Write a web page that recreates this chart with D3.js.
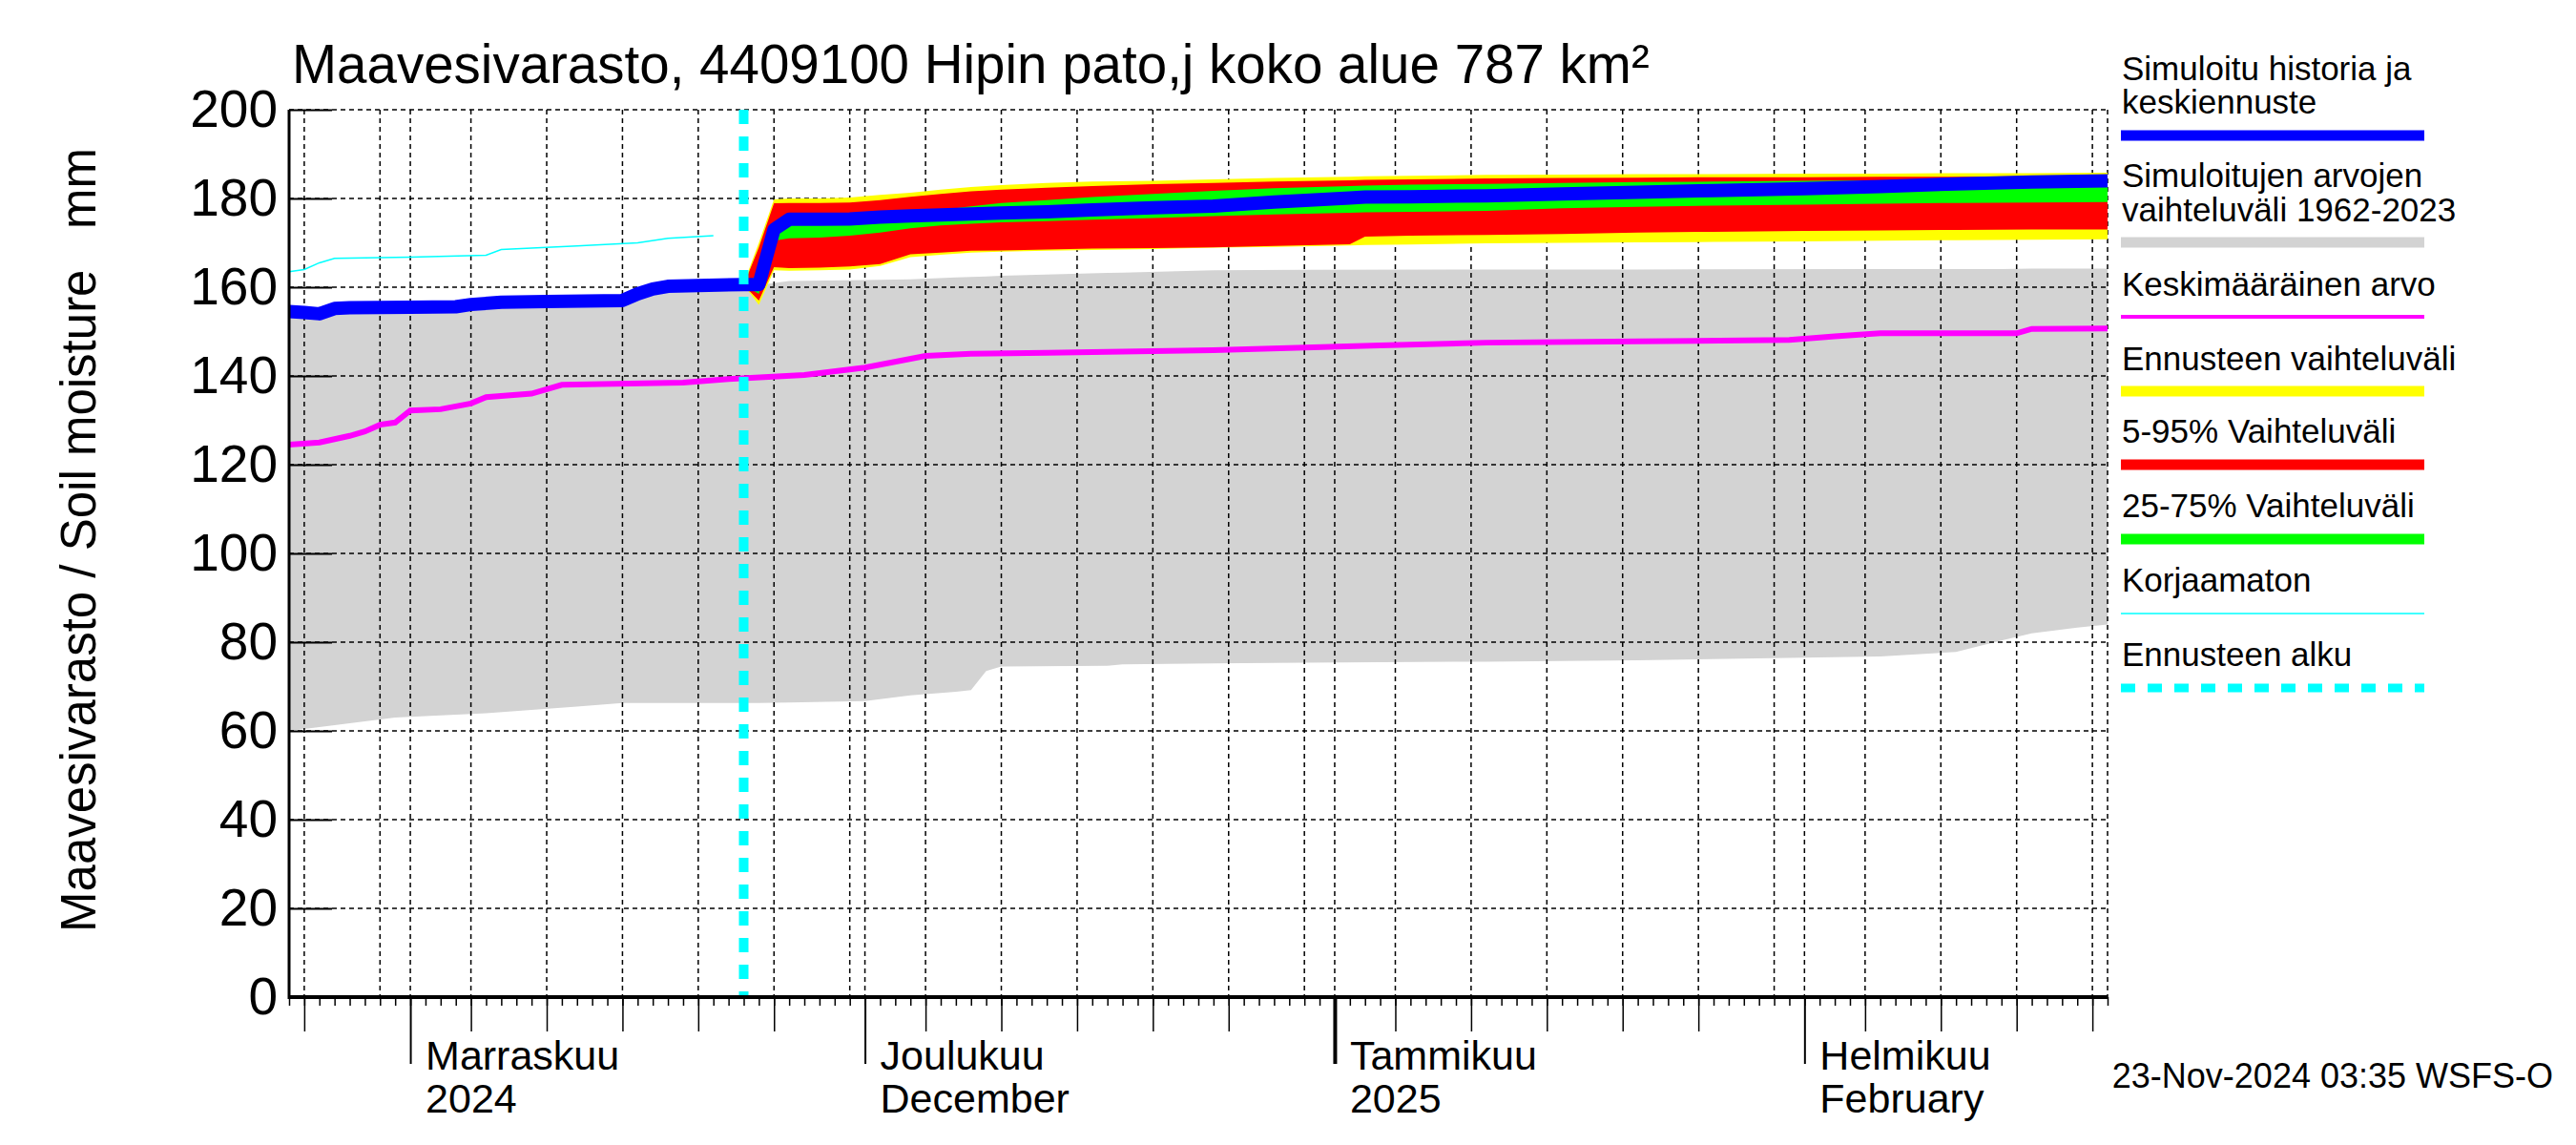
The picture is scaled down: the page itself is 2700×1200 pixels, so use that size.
<!DOCTYPE html>
<html>
<head>
<meta charset="utf-8">
<script src="https://cdn.jsdelivr.net/npm/d3@7"></script>
<style>
  html, body { margin: 0; padding: 0; background: #ffffff; }
  svg { display: block; font-family: "Liberation Sans", Arial, Helvetica, sans-serif; }
</style>
</head>
<body>
<svg id="chart" width="2700" height="1200"></svg>
<script>
// ---------------- DATA ----------------
const titleText = "Maavesivarasto, 4409100 Hipin pato,j koko alue 787 km²";
const yAxisTitle = "Maavesivarasto / Soil moisture   mm";
const stampText = "23-Nov-2024 03:35 WSFS-O";
const yTicks = [0, 20, 40, 60, 80, 100, 120, 140, 160, 180, 200];
const monthLabels = [
  ["2024-11-01", "Marraskuu", "2024"],
  ["2024-12-01", "Joulukuu", "December"],
  ["2025-01-01", "Tammikuu", "2025"],
  ["2025-02-01", "Helmikuu", "February"]
];
const domainStart = "2024-10-24";
const domainEnd = "2025-02-21";
const forecastStart = "2024-11-23";

// historical range 1962-2023 (grey band)
const grayDates = ["2024-10-24","2024-10-27","2024-10-31","2024-11-06","2024-11-12","2024-11-15","2024-11-17","2024-11-22","2024-11-23","2024-11-24","2024-11-26","2024-12-01","2024-12-04","2024-12-07","2024-12-08","2024-12-09","2024-12-10","2024-12-17","2024-12-18","2024-12-24","2024-12-30","2025-01-11","2025-01-21","2025-02-06","2025-02-11","2025-02-14","2025-02-16","2025-02-19","2025-02-21"];
const grayHi = [153.5,154.5,154.8,155.3,156,156.5,158.5,159.8,160,160.5,161.4,161.6,161.8,162.2,162.3,162.4,162.6,163.2,163.3,163.8,163.9,164,164,164.1,164.1,164.1,164.2,164.2,164.2];
const grayLo = [60,61.3,63,64,65.5,66.3,66.3,66.3,66.3,66.3,66.4,66.7,68,68.8,69.2,73.5,74.5,74.7,75,75.2,75.4,75.6,75.9,76.8,77.8,80.4,82,83.3,84];

// mean value (magenta)
const meanDates = ["2024-10-24","2024-10-26","2024-10-28","2024-10-29","2024-10-30","2024-10-31","2024-11-01","2024-11-03","2024-11-05","2024-11-06","2024-11-09","2024-11-11","2024-11-19","2024-11-22","2024-11-27","2024-12-01","2024-12-05","2024-12-08","2024-12-13","2024-12-24","2025-01-04","2025-01-11","2025-01-21","2025-01-31","2025-02-03","2025-02-06","2025-02-15","2025-02-16","2025-02-21"];
const meanVals = [124.5,125,126.5,127.5,129,129.5,132.2,132.5,133.8,135.2,136,138,138.5,139.3,140.2,141.9,144.5,145,145.2,145.8,146.9,147.5,147.8,148.1,148.9,149.6,149.6,150.6,150.7];

// uncorrected (thin cyan)
const rawDates = ["2024-10-24","2024-10-25","2024-10-26","2024-10-27","2024-11-01","2024-11-06","2024-11-07","2024-11-12","2024-11-16","2024-11-18","2024-11-21"];
const rawVals = [163.5,164,165.5,166.5,166.8,167.2,168.5,169.3,170,171,171.6];

// simulated history (blue)
const histDates = ["2024-10-24","2024-10-25","2024-10-26","2024-10-27","2024-10-28","2024-11-01","2024-11-04","2024-11-05","2024-11-07","2024-11-10","2024-11-15","2024-11-16","2024-11-17","2024-11-18","2024-11-20","2024-11-23"];
const histVals = [154.5,154.3,154,155.2,155.4,155.5,155.6,156.1,156.6,156.8,157,158.5,159.6,160.2,160.4,160.6];

// forecast
const fcDates = ["2024-11-23","2024-11-24","2024-11-25","2024-11-26","2024-11-28","2024-11-30","2024-12-02","2024-12-04","2024-12-06","2024-12-08","2024-12-10","2024-12-13","2024-12-16","2024-12-20","2024-12-24","2024-12-28","2025-01-02","2025-01-03","2025-01-06","2025-01-11","2025-01-16","2025-01-21","2025-01-26","2025-02-01","2025-02-06","2025-02-11","2025-02-16","2025-02-21"];
const yellowHi = [160.8,170,179.8,180,180,180.2,180.8,181.3,182,182.6,183,183.5,183.8,184,184.3,184.6,184.9,185,185.1,185.3,185.4,185.5,185.5,185.6,185.6,185.7,185.7,185.8];
const redHi    = [160.5,169,178.9,179,179,179.1,179.6,180.4,181,181.6,182,182.4,182.8,183.2,183.5,183.8,184.1,184.2,184.3,184.5,184.6,184.7,184.8,184.8,184.9,184.9,185,185];
const greenHi  = [160.5,163,174.5,175.5,175.8,176,176.3,176.8,177.4,178.2,179,179.6,180.3,181,181.7,182.3,182.8,182.9,183.1,183.3,183.5,183.7,183.8,184,184.1,184.3,184.4,184.5];
const medianFc = [160.6,160.6,173,175.3,175.3,175.4,175.8,176.1,176.3,176.5,176.7,177,177.4,177.9,178.3,179.2,180.1,180.3,180.4,180.6,181,181.4,181.8,182.2,182.7,183.3,183.7,184];
const greenLo  = [160.5,158.5,170.5,171,171.2,171.6,172.3,173.3,173.9,174.3,174.6,174.9,175.2,175.6,176,176.4,176.8,176.9,177,177.2,177.8,178.1,178.4,178.6,178.8,179,179.1,179.2];
const redLo    = [160.5,157,164.5,164.3,164.4,164.7,165.2,167.4,167.8,168.2,168.3,168.5,168.7,168.8,169,169.3,169.7,171.4,171.6,171.8,172,172.3,172.5,172.7,172.8,172.9,173,173];
const yellowLo = [160.5,156,163.8,163.7,163.8,164,164.8,166.8,167.3,167.8,168,168.2,168.4,168.6,168.9,169.1,169.4,169.5,169.6,169.9,170,170.1,170.2,170.3,170.5,170.6,170.7,170.8];

const legendItems = [
  {lines: ["Simuloitu historia ja", "keskiennuste"], color: "#0000ff", kind: "bar"},
  {lines: ["Simuloitujen arvojen", "vaihteluväli 1962-2023"], color: "#d3d3d3", kind: "bar"},
  {lines: ["Keskimääräinen arvo"], color: "#ff00ff", kind: "mid"},
  {lines: ["Ennusteen vaihteluväli"], color: "#ffff00", kind: "bar"},
  {lines: ["5-95% Vaihteluväli"], color: "#ff0000", kind: "bar"},
  {lines: ["25-75% Vaihteluväli"], color: "#00ff00", kind: "bar"},
  {lines: ["Korjaamaton"], color: "#00ffff", kind: "thin"},
  {lines: ["Ennusteen alku"], color: "#00ffff", kind: "dash"}
];

// ---------------- DRAW ----------------
const P = d => new Date(d + "T00:00:00Z");
const svg = d3.select("#chart");
svg.append("rect").attr("width", 2700).attr("height", 1200).attr("fill", "#fff");

const L = 303, R = 2209, T = 115, B = 1045;
const x = d3.scaleUtc().domain([P(domainStart), P(domainEnd)]).range([L, R]);
const y = d3.scaleLinear().domain([0, 200]).range([B, T]);

const band = (dates, lo, hi) => d3.area()
  .x((d, i) => x(P(dates[i]))).y0((d, i) => y(lo[i])).y1((d, i) => y(hi[i]))(dates);
const line = (dates, vals) => d3.line()
  .x((d, i) => x(P(dates[i]))).y((d, i) => y(vals[i]))(dates);

// grey historical band
svg.append("path").attr("d", band(grayDates, grayLo, grayHi)).attr("fill", "#d3d3d3");

// grid
const allDays = d3.utcDay.range(P(domainStart), d3.utcDay.offset(P(domainEnd), 1));
const gridDays = allDays.filter(d => [1, 5, 10, 15, 20, 25, 30].includes(d.getUTCDate()));
const grid = svg.append("g").attr("stroke", "#000").attr("stroke-width", 1.5).attr("stroke-dasharray", "5,4").attr("fill", "none");
grid.selectAll("line.h").data(yTicks.filter(v => v > 0)).join("line")
  .attr("x1", L).attr("x2", R).attr("y1", d => y(d)).attr("y2", d => y(d));
grid.selectAll("line.v").data(gridDays).join("line")
  .attr("x1", d => x(d)).attr("x2", d => x(d)).attr("y1", T).attr("y2", B);
grid.append("line").attr("x1", R).attr("x2", R).attr("y1", T).attr("y2", B);

// mean line
svg.append("path").attr("d", line(meanDates, meanVals)).attr("fill", "none")
  .attr("stroke", "#ff00ff").attr("stroke-width", 6);

// uncorrected
svg.append("path").attr("d", line(rawDates, rawVals)).attr("fill", "none")
  .attr("stroke", "#00ffff").attr("stroke-width", 1.5);

// forecast bands
svg.append("path").attr("d", band(fcDates, yellowLo, yellowHi)).attr("fill", "#ffff00");
svg.append("path").attr("d", band(fcDates, redLo, redHi)).attr("fill", "#ff0000");
svg.append("path").attr("d", band(fcDates, greenLo, greenHi)).attr("fill", "#00ff00");

// blue history + median forecast
svg.append("path").attr("d", line(histDates.concat(fcDates.slice(1)), histVals.concat(medianFc.slice(1))))
  .attr("fill", "none").attr("stroke", "#0000ff").attr("stroke-width", 14).attr("stroke-linejoin", "round");

// forecast start
svg.append("line").attr("x1", x(P(forecastStart))).attr("x2", x(P(forecastStart)))
  .attr("y1", T).attr("y2", B).attr("stroke", "#00ffff").attr("stroke-width", 10)
  .attr("stroke-dasharray", "15,13");

// y axis
const yAxis = d3.axisLeft(y).tickValues(yTicks).tickSize(-45).tickPadding(12).tickFormat(d3.format("d"));
const gy = svg.append("g").attr("transform", `translate(${L},0)`).call(yAxis);
gy.select(".domain").remove();
gy.selectAll(".tick line").attr("stroke", "#000").attr("stroke-width", 2);
gy.selectAll(".tick text").attr("font-size", 55).attr("fill", "#000")
  .attr("font-family", "'Liberation Sans', Arial, sans-serif");

// x axis ticks
function xTicks(vals, size, width) {
  const g = svg.append("g").attr("transform", `translate(0,${B})`)
    .call(d3.axisBottom(x).tickValues(vals).tickSize(size).tickFormat(""));
  g.select(".domain").remove();
  g.selectAll(".tick line").attr("stroke", "#000").attr("stroke-width", width);
}
xTicks(allDays.filter(d => d <= P(domainEnd)), 9, 1.5);
xTicks(allDays.filter(d => [5, 10, 15, 20, 25].includes(d.getUTCDate())), 36, 1.5);
xTicks(monthLabels.filter(m => m[0] !== "2025-01-01").map(m => P(m[0])), 70, 2);
xTicks([P("2025-01-01")], 70, 4);

// axis lines
svg.append("line").attr("x1", L).attr("x2", R).attr("y1", B).attr("y2", B).attr("stroke", "#000").attr("stroke-width", 4);
svg.append("line").attr("x1", L).attr("x2", L).attr("y1", T).attr("y2", B + 2).attr("stroke", "#000").attr("stroke-width", 3);

// month labels
const ml = svg.append("g").attr("font-size", 43).attr("fill", "#000");
monthLabels.forEach(m => {
  ml.append("text").attr("x", x(P(m[0])) + 16).attr("y", 1121).text(m[1]);
  ml.append("text").attr("x", x(P(m[0])) + 16).attr("y", 1166).text(m[2]);
});

// title
svg.append("text").attr("x", 306).attr("y", 87).attr("font-size", 56.5).attr("fill", "#000").text(titleText);

// y title
svg.append("text").attr("transform", "translate(100,566) rotate(-90)").attr("text-anchor", "middle")
  .attr("font-size", 51).attr("fill", "#000").style("white-space", "pre").text(yAxisTitle);

// timestamp
svg.append("text").attr("x", 2676).attr("y", 1140).attr("text-anchor", "end").attr("font-size", 36)
  .attr("fill", "#000").text(stampText);

// legend
const lg = svg.append("g");
const lx0 = 2223, lx1 = 2541;
const legendBaselines = [[84, 119], [196, 232], [310], [388], [464], [542], [620], [698]];
const legendMarks = [142, 254, 332, 410, 487, 565, 643, 721];
legendItems.forEach((it, i) => {
  it.lines.forEach((t, j) => {
    lg.append("text").attr("x", lx0 + 1).attr("y", legendBaselines[i][j]).attr("font-size", 35).attr("fill", "#000").text(t);
  });
  const sw = it.kind === "bar" ? 11 : it.kind === "mid" ? 4 : it.kind === "thin" ? 1.5 : 9;
  const ln = lg.append("line").attr("x1", lx0).attr("x2", lx1).attr("y1", legendMarks[i]).attr("y2", legendMarks[i])
    .attr("stroke", it.color).attr("stroke-width", sw);
  if (it.kind === "dash") ln.attr("stroke-dasharray", "15,13");
});
</script>
</body>
</html>
